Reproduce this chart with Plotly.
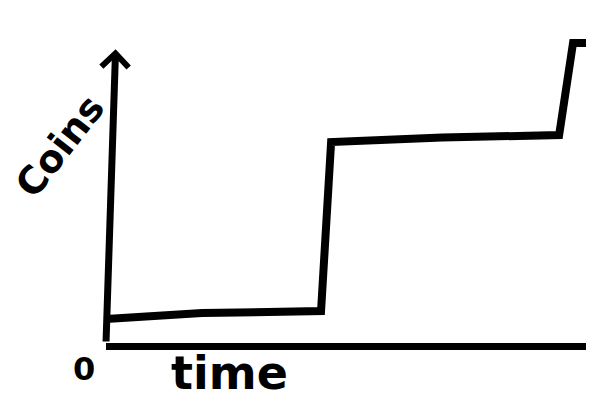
import plotly.graph_objects as go

# Hand-drawn step curve: coins over time
time = [0.0, 2.0, 4.48, 4.69, 7.0, 9.44, 9.73, 10.0]
coins = [0.92, 1.15, 1.23, 7.73, 7.9, 8.0, 11.54, 11.54]

x_label = "time"
y_label = "Coins"
origin_label = "0"

fig = go.Figure()
fig.add_trace(go.Scatter(
    x=time, y=coins, mode="lines",
    line=dict(color="black", width=8),
    hoverinfo="skip", showlegend=False,
))

# y axis drawn as an arrow
fig.add_annotation(
    x=0.2, y=11.3, ax=0, ay=0,
    xref="x", yref="y", axref="x", ayref="y",
    text="", showarrow=True,
    arrowhead=4, arrowsize=0.75, arrowwidth=7, arrowcolor="black",
)

fig.add_annotation(
    text=y_label, xref="paper", yref="paper",
    x=-0.095, y=0.63, showarrow=False, textangle=-52,
    font=dict(family="DejaVu Sans", size=38, color="black", weight="bold"),
    xanchor="center", yanchor="middle",
)
fig.add_annotation(
    text=origin_label, xref="paper", yref="paper",
    x=-0.046, y=-0.083, showarrow=False,
    font=dict(family="DejaVu Sans", size=32, color="black", weight="bold"),
    xanchor="center", yanchor="middle",
)
fig.add_annotation(
    text=x_label, xref="paper", yref="paper",
    x=0.258, y=-0.097, showarrow=False,
    font=dict(family="DejaVu Sans", size=46, color="black", weight="bold"),
    xanchor="center", yanchor="middle",
)

fig.update_layout(
    width=600, height=403,
    margin=dict(l=98, r=22, t=23, b=68),
    paper_bgcolor="white", plot_bgcolor="white",
    xaxis=dict(range=[0, 10], showgrid=False, zeroline=False,
               showticklabels=False, ticks="",
               showline=True, linewidth=7, linecolor="black"),
    yaxis=dict(range=[0, 12], showgrid=False, zeroline=False,
               showticklabels=False, ticks="", showline=False),
)

fig.write_html("out.html")
